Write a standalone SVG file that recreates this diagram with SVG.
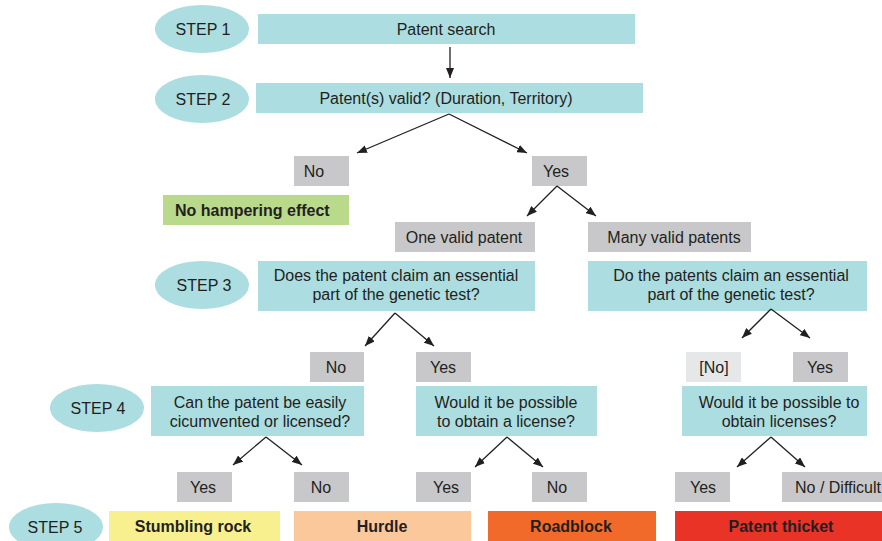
<svg xmlns="http://www.w3.org/2000/svg" width="882" height="541" viewBox="0 0 882 541">
<defs>
<style>
text{font-family:"Liberation Sans",Arial,sans-serif;font-size:16px;fill:#231f20;text-anchor:middle}
.b{font-weight:bold}
.step{fill:#acdde1}
.q{fill:#acdde1}
.g{fill:#c8c8ca}
.lg{fill:#e6e7e9}
.c line{stroke:#231f20;stroke-width:1.3;marker-end:url(#ah)}
</style>
<marker id="ah" viewBox="0 0 10 8" refX="10" refY="4" markerWidth="10" markerHeight="8" markerUnits="userSpaceOnUse" orient="auto">
<path d="M0,0 L10,4 L0,8 Z" fill="#231f20"/>
</marker>
</defs>
<rect width="882" height="541" fill="#ffffff"/>

<g id="step1"><ellipse class="step" cx="202" cy="29" rx="47" ry="24"/><text x="203" y="35">STEP 1</text></g>
<g id="step2"><ellipse class="step" cx="202" cy="99" rx="47" ry="24"/><text x="203" y="105">STEP 2</text></g>
<g id="step3"><ellipse class="step" cx="202" cy="285" rx="47" ry="24"/><text x="204" y="291">STEP 3</text></g>
<g id="step4"><ellipse class="step" cx="97" cy="408" rx="47" ry="24"/><text x="98" y="414">STEP 4</text></g>
<g id="step5"><ellipse class="step" cx="56" cy="527" rx="47" ry="24"/><text x="55" y="533">STEP 5</text></g>

<g id="search"><rect class="q" x="258" y="14" width="377" height="30"/><text x="446" y="35">Patent search</text></g>
<g id="valid"><rect class="q" x="256" y="83" width="387" height="30"/><text x="446" y="104">Patent(s) valid? (Duration, Territory)</text></g>
<g id="no1"><rect class="g" x="294" y="156" width="55" height="30"/><text x="314" y="177">No</text></g>
<g id="yes1"><rect class="g" x="532" y="156" width="55" height="30"/><text x="556" y="177">Yes</text></g>
<g id="nohamper"><rect fill="#b9d98b" x="163" y="195" width="186" height="30"/><text class="b" x="175" y="216" style="text-anchor:start">No hampering effect</text></g>
<g id="one"><rect class="g" x="395" y="222" width="140" height="30"/><text x="464" y="243">One valid patent</text></g>
<g id="many"><rect class="g" x="588" y="222" width="163" height="30"/><text x="674" y="243">Many valid patents</text></g>
<g id="q3a"><rect class="q" x="258" y="261" width="277" height="50"/><text x="396" y="281">Does the patent claim an essential</text><text x="396" y="300">part of the genetic test?</text></g>
<g id="q3b"><rect class="q" x="588" y="261" width="279" height="50"/><text x="731" y="281">Do the patents claim an essential</text><text x="731" y="300">part of the genetic test?</text></g>
<g id="no3"><rect class="g" x="310" y="352" width="54" height="30"/><text x="336" y="373">No</text></g>
<g id="yes3"><rect class="g" x="416" y="352" width="55" height="30"/><text x="443" y="373">Yes</text></g>
<g id="no3b"><rect class="lg" x="686" y="352" width="55" height="30"/><text x="714" y="373">[No]</text></g>
<g id="yes3b"><rect class="g" x="793" y="352" width="55" height="30"/><text x="820" y="373">Yes</text></g>
<g id="q4a"><rect class="q" x="151" y="386" width="213" height="50"/><text x="260" y="408">Can the patent be easily</text><text x="260" y="427">cicumvented or licensed?</text></g>
<g id="q4b"><rect class="q" x="416" y="386" width="181" height="50"/><text x="506" y="408">Would it be possible</text><text x="506" y="427">to obtain a license?</text></g>
<g id="q4c"><rect class="q" x="682" y="386" width="185" height="50"/><text x="779" y="408">Would it be possible to</text><text x="779" y="427">obtain licenses?</text></g>
<g id="yes4a"><rect class="g" x="177" y="472" width="55" height="30"/><text x="203" y="493">Yes</text></g>
<g id="no4a"><rect class="g" x="294" y="472" width="55" height="30"/><text x="321" y="493">No</text></g>
<g id="yes4b"><rect class="g" x="416" y="472" width="55" height="30"/><text x="446" y="493">Yes</text></g>
<g id="no4b"><rect class="g" x="532" y="472" width="55" height="30"/><text x="557" y="493">No</text></g>
<g id="yes4c"><rect class="g" x="675" y="472" width="55" height="30"/><text x="703" y="493">Yes</text></g>
<g id="no4c"><rect class="g" x="782" y="472" width="100" height="30"/><text x="838" y="493">No / Difficult</text></g>
<g id="stumbling"><rect fill="#f8f08f" x="109" y="511" width="171" height="30"/><text class="b" x="193" y="532">Stumbling rock</text></g>
<g id="hurdle"><rect fill="#fbc89b" x="294" y="511" width="177" height="30"/><text class="b" x="382" y="532">Hurdle</text></g>
<g id="roadblock"><rect fill="#f26a2a" x="488" y="511" width="168" height="30"/><text class="b" x="571" y="532">Roadblock</text></g>
<g id="thicket"><rect fill="#e83326" x="675" y="511" width="207" height="30"/><text class="b" x="781" y="532">Patent thicket</text></g>

<g id="connectors" class="c">
<line x1="450" y1="47" x2="450" y2="78"/>
<line x1="449" y1="114" x2="357" y2="153"/>
<line x1="449" y1="114" x2="527" y2="153"/>
<line x1="557" y1="186" x2="527" y2="216"/>
<line x1="557" y1="186" x2="596" y2="216"/>
<line x1="395" y1="313" x2="365" y2="346"/>
<line x1="395" y1="313" x2="434" y2="346"/>
<line x1="771" y1="309" x2="742" y2="338"/>
<line x1="771" y1="309" x2="810" y2="338"/>
<line x1="266" y1="437" x2="233" y2="465"/>
<line x1="266" y1="437" x2="302" y2="465"/>
<line x1="507" y1="437" x2="475" y2="467"/>
<line x1="507" y1="437" x2="543" y2="467"/>
<line x1="771" y1="437" x2="737" y2="467"/>
<line x1="771" y1="437" x2="805" y2="467"/>
</g>
</svg>
